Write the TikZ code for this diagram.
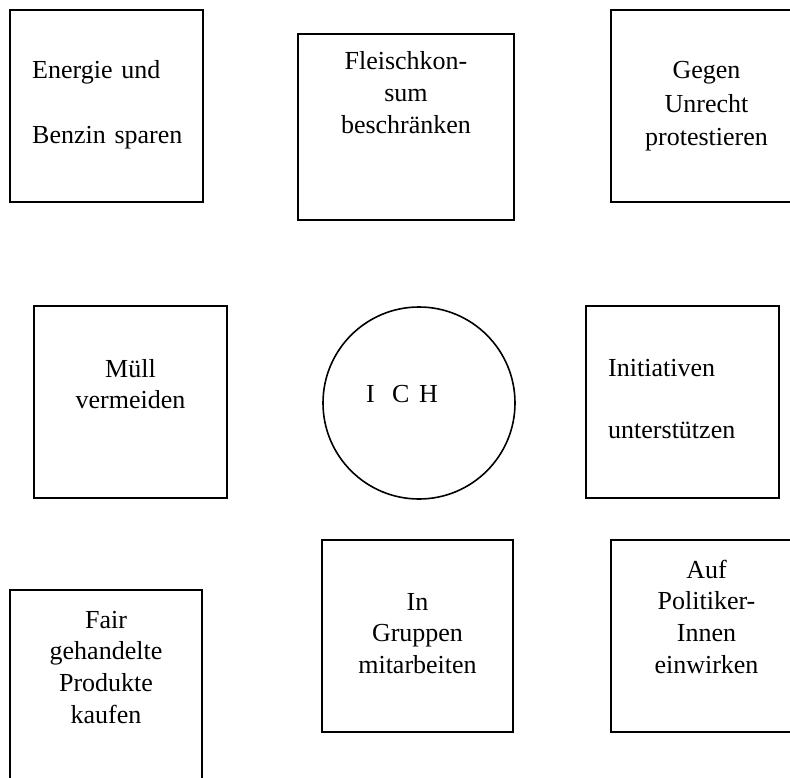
\documentclass[tikz,border=0pt]{standalone}
\usepackage{fontspec}
\setmainfont{Liberation Serif}
\begin{document}
\begin{tikzpicture}[x=1pt,y=-1pt,
  box/.style={draw=black,line width=2pt,minimum width=#1,inner sep=0pt},
  lbl/.style={font=\fontsize{26}{31.7}\selectfont,inner sep=0pt,text width=190pt,align=center,anchor=base},
  lbll/.style={font=\fontsize{26}{31.7}\selectfont,inner sep=0pt,text width=180pt,align=left,anchor=base west}]
\useasboundingbox (0,0) rectangle (790,778);
\clip (0,0) rectangle (790,778);
% boxes
\node[box=193pt,minimum height=192pt] (b1) at (106.5,106) {};
\node[box=216pt,minimum height=186pt] (b2) at (406,127) {};
\node[box=191pt,minimum height=192pt] (b3) at (706.5,106) {};
\node[box=193pt,minimum height=192pt] (b4) at (130.5,402) {};
\node[box=193pt,minimum height=192pt] (b5) at (682.5,402) {};
\node[box=191pt,minimum height=192pt] (b6) at (417.5,636) {};
\node[box=191pt,minimum height=192pt] (b7) at (706.5,636) {};
\node[box=192pt,minimum height=192pt] (b8) at (106,686) {};
\node[draw=black,line width=1.6pt,circle,minimum size=192pt,inner sep=0pt] (ich) at (419,403) {};
% labels
\node[lbll] (t1) at (32,79) {Energie und\\[33pt]Benzin sparen};
\node[lbl] (t2) at (406,70) {Fleischkon-\\sum\\beschränken};
\node[lbl] (t3) at (706.5,79) {Gegen\\[1.5pt]Unrecht\\[1.5pt]protestieren};
\node[lbl] (t4) at (130.5,377) {Müll\\vermeiden};
\node[font=\fontsize{26}{31.7}\selectfont,inner sep=0pt,anchor=base west] (t0) at (366,402) {I\hspace{17.3pt}C\hspace{9.7pt}H};
\node[lbll] (t5) at (608,376) {Initiativen\\[30.5pt]unterstützen};
\node[lbl] (t6) at (417.5,610) {In\\Gruppen\\mitarbeiten};
\node[lbl] (t7) at (706.5,578) {Auf\\Politiker-\\Innen\\einwirken};
\node[lbl] (t8) at (106,628) {Fair\\gehandelte\\Produkte\\kaufen};
\end{tikzpicture}
\end{document}
